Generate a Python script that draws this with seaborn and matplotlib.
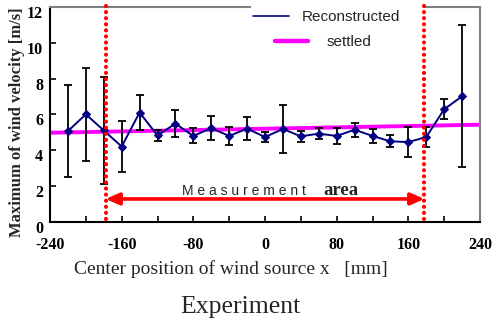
import numpy as np
import pandas as pd
import matplotlib
matplotlib.use("Agg")
import matplotlib.pyplot as plt
import matplotlib.transforms as mtransforms
from matplotlib.lines import Line2D
from matplotlib import font_manager
import seaborn as sns

# ---- data ----
x_pos = [-220, -200, -180, -160, -140, -120, -100, -80, -60, -40, -20, 0,
         20, 40, 60, 80, 100, 120, 140, 160, 180, 200, 220]
velocity = [5.06, 6.0, 5.1, 4.2, 6.1, 4.82, 5.48, 4.79, 5.23, 4.79, 5.2, 4.73,
            5.18, 4.77, 4.92, 4.79, 5.14, 4.79, 4.49, 4.45, 4.73, 6.28, 7.01]
err = [2.55, 2.6, 3.0, 1.4, 1.0, 0.33, 0.74, 0.42, 0.68, 0.5, 0.66, 0.27,
       1.32, 0.31, 0.32, 0.46, 0.4, 0.37, 0.33, 0.85, 0.56, 0.55, 3.97]
settled_x = [-240, 240]
settled_y = [4.97, 5.42]
area_bounds = [-178, 178]
arrow_y = 1.27
x_ticks = [-240, -160, -80, 0, 80, 160, 240]
y_ticks = [0, 2, 4, 6, 8, 10, 12]

df = pd.DataFrame({"x": x_pos, "v": velocity})
df_s = pd.DataFrame({"x": settled_x, "v": settled_y})

sns.set_style("white")
plt.rcParams["font.family"] = ["Liberation Serif", "DejaVu Serif"]

names = {f.name for f in font_manager.fontManager.ttflist}
narrow = "Liberation Sans Narrow" if "Liberation Sans Narrow" in names else "Liberation Sans"
meas_size = 12 if narrow == "Liberation Sans Narrow" else 10

fig = plt.figure(figsize=(5.0, 3.22), dpi=100)
ax = fig.add_axes([0.1, 0.3115, 0.86, 0.667])

NAVY = "#000080"
MAGENTA = "#ff00ff"

# settled line
sns.lineplot(data=df_s, x="x", y="v", ax=ax, color=MAGENTA, linewidth=2.8,
             legend=False, zorder=2)
# error bars
ax.errorbar(x_pos, velocity, yerr=err, fmt="none", ecolor="black",
            elinewidth=1.3, capsize=3, capthick=1.3, zorder=3)
# reconstructed line
sns.lineplot(data=df, x="x", y="v", ax=ax, color=NAVY, linewidth=1.4,
             marker="D", markersize=4, markeredgecolor=NAVY,
             legend=False, zorder=4)

# measurement area boundaries
for b in area_bounds:
    ax.plot([b, b], [12.05, -0.15], color="red", linewidth=3,
            linestyle=(0, (0.01, 1.45)), dash_capstyle="round",
            clip_on=False, zorder=5)

ax.annotate("", xy=(area_bounds[0], arrow_y), xytext=(area_bounds[1], arrow_y),
            arrowprops=dict(arrowstyle="<|-|>,head_length=0.8,head_width=0.35",
                            color="red", linewidth=2.6, shrinkA=0, shrinkB=0),
            zorder=5)
ax.text(-23, 1.5, "M e a s u r e m e n t", family=[narrow],
        fontsize=meas_size, ha="center", va="baseline")
ax.text(85, 1.5, "area", fontsize=13.5, fontweight="bold", ha="center",
        va="baseline")

ax.set_xlim(-240, 240)
ax.set_ylim(0, 12)
ax.set_xticks(x_ticks)
ax.set_xticks(np.arange(-240, 241, 40), minor=True)
ax.set_yticks(y_ticks)
ax.set_xticklabels([str(t) for t in x_ticks], fontsize=11.5, fontweight="bold")
ax.set_yticklabels([str(t) for t in y_ticks], fontsize=11.5, fontweight="bold")
ax.tick_params(axis="both", which="both", direction="in", length=4, width=1.2,
               colors="black")
ax.tick_params(axis="x", which="both", bottom=True, pad=11)
ax.tick_params(axis="y", left=True, pad=5)
shift = mtransforms.ScaledTranslation(0, -5 / 100, fig.dpi_scale_trans)
for lab in ax.get_yticklabels():
    lab.set_transform(lab.get_transform() + shift)

for s in ["left", "bottom"]:
    ax.spines[s].set_color("black")
    ax.spines[s].set_linewidth(1.5)
for s in ["top", "right"]:
    ax.spines[s].set_color("#808080")
    ax.spines[s].set_linewidth(1.5)
ax.spines["top"].set_bounds(-240, -17)
ax.plot([176, 240], [12, 12], color="#808080", linewidth=1.5, clip_on=False,
        solid_capstyle="butt")

ax.set_xlabel("Center position of wind source x   [mm]", fontsize=14)
ax.xaxis.set_label_coords(0.42, -0.178)
ax.set_ylabel("Maximum of wind velocity [m/s]", fontsize=12,
              fontweight="bold")
ax.yaxis.set_label_coords(-0.058, 0.462)

prop = {"family": "Liberation Sans", "size": 11}
h1 = Line2D([], [], color=NAVY, linewidth=1.2)
h2 = Line2D([], [], color=MAGENTA, linewidth=3.2)
leg1 = fig.legend([h1], ["Reconstructed"], loc="center left",
                  bbox_to_anchor=(253 / 500, 1 - 17 / 322), frameon=False,
                  prop=prop, borderpad=0, borderaxespad=0,
                  handlelength=2.35, handletextpad=0.85)
leg2 = fig.legend([h2], ["settled"], loc="center left",
                  bbox_to_anchor=(275 / 500, 1 - 42 / 322), frameon=False,
                  prop=prop, borderpad=0, borderaxespad=0,
                  handlelength=2.15, handletextpad=1.24)

fig.text(0.48, 1 - 307 / 322, "Experiment", fontsize=18.5, ha="center",
         va="center")

fig.savefig("out.png", dpi=100)
